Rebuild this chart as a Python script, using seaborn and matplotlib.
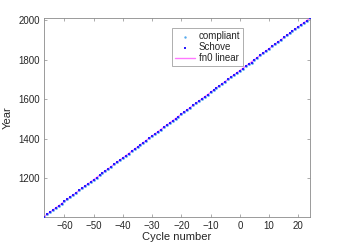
import matplotlib
matplotlib.use('Agg')
import matplotlib.pyplot as plt
import seaborn as sns
import pandas as pd
import numpy as np

# cycle numbers and start years
cycles = list(range(-67, 25))
schove_years = [
    1006.0, 1017.5, 1028.0, 1039.5, 1050.0, 1061.5, 1072.0, 1083.5, 1094.0, 1105.5,
    1116.0, 1127.0, 1138.5, 1149.0, 1160.5, 1171.0, 1182.5, 1193.5, 1204.0, 1215.5,
    1226.0, 1237.5, 1248.0, 1259.5, 1270.0, 1281.5, 1292.0, 1303.5, 1314.5, 1325.0,
    1336.5, 1347.0, 1358.5, 1369.0, 1380.5, 1391.0, 1402.5, 1413.5, 1424.0, 1435.5,
    1446.0, 1457.5, 1468.0, 1479.5, 1490.0, 1501.5, 1512.0, 1524.0, 1535.0, 1546.5,
    1557.0, 1568.5, 1579.0, 1590.5, 1601.0, 1612.0, 1623.0, 1634.0, 1645.0, 1655.5,
    1666.5, 1678.0, 1689.5, 1700.0, 1711.5, 1723.5, 1734.0, 1745.0, 1755.2, 1766.5,
    1775.5, 1784.7, 1798.3, 1810.6, 1823.3, 1833.9, 1843.5, 1855.9, 1867.2, 1878.9,
    1889.6, 1901.7, 1913.6, 1923.6, 1933.8, 1944.2, 1954.3, 1964.9, 1976.5, 1986.8,
    1996.4, 2008.9,
]
compliant_years = schove_years

df = pd.DataFrame({'cycle': cycles, 'schove': schove_years, 'compliant': compliant_years})

# linear fit through the Schove years
coef = np.polyfit(df['cycle'], df['schove'], 1)
df['fit'] = np.polyval(coef, df['cycle'])

sns.set_style('white')
plt.rcParams['font.family'] = ['Liberation Sans', 'DejaVu Sans']

fig = plt.figure(figsize=(3.42, 2.45), dpi=100)
ax = fig.add_axes([0.1287, 0.1155, 0.7777, 0.8098])

sns.lineplot(data=df, x='cycle', y='fit', ax=ax, color='#ff77ff', linewidth=1.0,
             label='fn0 linear', zorder=1)
sns.scatterplot(data=df, x='cycle', y='compliant', ax=ax, color='#55aaee', marker='o',
                s=4, linewidth=0, label='compliant', zorder=2)
sns.scatterplot(data=df, x='cycle', y='schove', ax=ax, color='#2a1aff', marker='s',
                s=3.5, linewidth=0, label='Schove', zorder=3)

ax.set_xlim(-67, 24)
ax.set_ylim(1006, 2009)
ax.set_xticks(range(-60, 21, 10))
ax.set_yticks(range(1200, 2001, 200))
ax.set_xlabel('Cycle number', fontsize=8, labelpad=1)
ax.set_ylabel('Year', fontsize=8, labelpad=4)

for s in ax.spines.values():
    s.set_color('#8a8a8a')
    s.set_linewidth(0.6)
ax.tick_params(direction='in', length=2.5, width=0.5, colors='#8a8a8a',
               labelsize=7, labelcolor='#262626', top=True, right=True,
               bottom=True, left=True, pad=3)

handles, labels = ax.get_legend_handles_labels()
order = [labels.index('compliant'), labels.index('Schove'), labels.index('fn0 linear')]
leg = ax.legend([handles[i] for i in order], [labels[i] for i in order],
                loc='upper left', bbox_to_anchor=(0.483, 0.95), fontsize=7,
                frameon=True, fancybox=False, borderpad=0.3, labelspacing=0.1,
                handlelength=2.0, handletextpad=0.4, borderaxespad=0)
leg.get_frame().set_edgecolor('#8a8a8a')
leg.get_frame().set_linewidth(0.6)
for h in leg.legend_handles[:2]:
    h.set_sizes([3])

fig.savefig('out.png', dpi=100)
